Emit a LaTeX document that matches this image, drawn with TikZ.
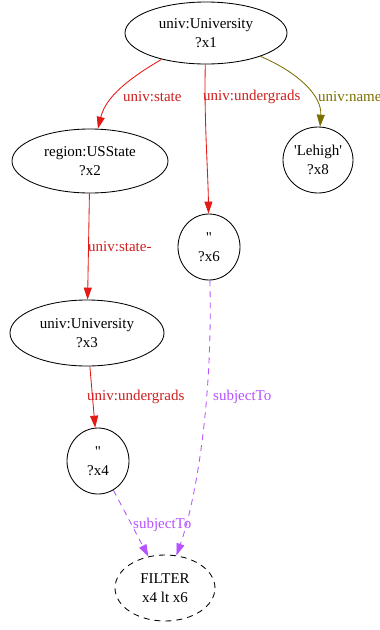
\documentclass[tikz,border=0pt]{standalone}
\usepackage{fontspec}
\setmainfont{Liberation Serif}[Ligatures=TeXOff]
\usepackage{xcolor}
\usepackage{tikz}
\usetikzlibrary{arrows.meta, shapes.geometric}

\definecolor{edgered}{RGB}{228,24,20}
\definecolor{lblred}{RGB}{205,30,30}
\definecolor{edgeolive}{RGB}{122,112,0}
\definecolor{edgeviolet}{RGB}{182,82,255}

\newcommand{\emptylit}{\symbol{"22}}
\newcommand{\sq}{\symbol{"27}}

\begin{document}
\begin{tikzpicture}[
    x=1pt, y=-1pt,
    var/.style={draw, ellipse, inner sep=0pt, line width=0.85pt, align=center, font=\fontsize{15}{19}\selectfont},
    filterbox/.style={var, dash pattern=on 6pt off 5pt},
    edgelbl/.style={anchor=west, inner sep=0pt, font=\fontsize{15}{18}\selectfont},
    flow/.style={-{Triangle[length=12pt, width=8pt]}, line width=0.85pt},
    subj/.style={flow, edgeviolet, dash pattern=on 6pt off 5pt}
]
\useasboundingbox (0,0) rectangle (380,630);

\node[var, minimum width=162pt, minimum height=62pt] (x1) at (206,33) {univ:University\\?x1};
\node[var, minimum width=156pt, minimum height=64pt] (x2) at (90,161) {region:USState\\?x2};
\node[var, minimum width=154pt, minimum height=66pt] (x3) at (87,333) {univ:University\\?x3};
\node[var, minimum width=62pt, minimum height=66pt] (x4) at (98,461) {\emptylit\\?x4};
\node[var, minimum width=62pt, minimum height=66pt] (x6) at (209,247) {\emptylit\\?x6};
\node[var, minimum width=70pt, minimum height=66pt] (x8) at (318,160) {\sq Lehigh\sq\\?x8};
\node[filterbox, minimum width=100pt, minimum height=66pt] (filter) at (165,588) {FILTER\\x4 lt x6};

% edge labels
\node[edgelbl, lblred] (lstate) at (123,97) {univ:state};
\node[edgelbl, lblred] (lunder1) at (203,97) {univ:undergrads};
\node[edgelbl, edgeolive] (lname) at (318,97) {univ:name};
\node[edgelbl, lblred] (lstatem) at (88,247) {univ:state-};
\node[edgelbl, lblred] (lunder2) at (87,397) {univ:undergrads};
\node[edgelbl, edgeviolet] (lsubj1) at (133,525) {subjectTo};
\node[edgelbl, edgeviolet] (lsubj2) at (213,397) {subjectTo};

\draw[flow, edgered] (x1) .. controls (130,78) and (106,96) .. (x2);
\draw[flow, edgered] (x1) .. controls (204,120) and (208,170) .. (x6);
\draw[flow, edgeolive] (x1) .. controls (297,72) and (322,95) .. (x8);
\draw[flow, edgered] (x2) -- (x3);
\draw[flow, edgered] (x3) -- (x4);
\draw[subj] (x4) -- (filter);
\draw[subj] (x6) .. controls (213,400) and (196,500) .. (filter);
\end{tikzpicture}
\end{document}
